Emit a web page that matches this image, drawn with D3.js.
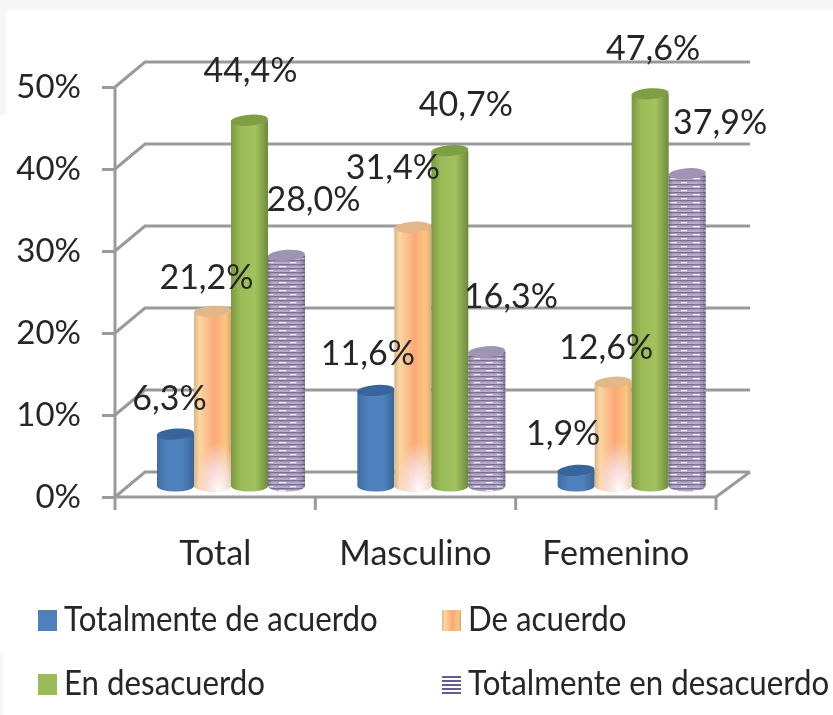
<!DOCTYPE html>
<meta charset="utf-8">
<script src="https://d3js.org/d3.v7.min.js"></script>

<style>
    html, body { margin: 0; padding: 0; background: #fff; }
    svg { display: block; }
    text { font-family: Lato, sans-serif; fill: #262626; }
    .grid { fill: none; stroke: #9a9a9a; stroke-width: 3px; }
    .axis path { display: none; }
    .axis line { stroke: #9a9a9a; stroke-width: 3px; }
</style>

<div id="chart"></div>

<script>
    // values
    const categories = ["Total", "Masculino", "Femenino"];
    const seriesNames = ["Totalmente de acuerdo", "De acuerdo", "En desacuerdo", "Totalmente en desacuerdo"];
    const totalmenteAcuerdo = [6.3, 11.6, 1.9];
    const deAcuerdo = [21.2, 31.4, 12.6];
    const enDesacuerdo = [44.4, 40.7, 47.6];
    const totalmenteDesacuerdo = [28.0, 16.3, 37.9];
    const yTicks = [0, 10, 20, 30, 40, 50];

    const seriesValues = [totalmenteAcuerdo, deAcuerdo, enDesacuerdo, totalmenteDesacuerdo];

    // label offsets from the top of each bar, [dx, dy], per series then category
    const labelNudge = [
        [[-6, -38], [-8, -40], [-13, -40]],
        [[-6, -37], [-20, -63], [-7, -37]],
        [[1, -52], [16, -49], [3, -48]],
        [[27, -59], [24, -58], [33, -54]]
    ];

    const width = 833, height = 715;
    const depthX = 30, depthY = 25;   // shift of the back wall

    const svg = d3.select("#chart").append("svg")
        .attr("width", width)
        .attr("height", height);

    const defs = svg.append("defs");

    function hGradient(id, stops) {
        let g = defs.append("linearGradient").attr("id", id);
        stops.forEach(function (s) {
            g.append("stop").attr("offset", s[0]).attr("stop-color", s[1]).attr("stop-opacity", s[2] === undefined ? 1 : s[2]);
        });
    }

    hGradient("blue", [[0, "#3f6da3"], [0.3, "#4f81bd"], [0.7, "#4f81bd"], [1, "#3a6598"]]);
    hGradient("orange", [[0, "#dcb48c"], [0.15, "#fbd7a0"], [0.55, "#fba878"], [0.85, "#fcc67c"], [1, "#d9a878"]]);
    hGradient("green", [[0, "#7a9840"], [0.25, "#9bbb59"], [0.65, "#a2c25e"], [1, "#6f8a3c"]]);
    hGradient("purpleShade", [[0, "#3b2f5a", 0.35], [0.2, "#ffffff", 0.04], [0.7, "#ffffff", 0.04], [1, "#3b2f5a", 0.4]]);

    // whitish glow at the foot of the orange bars
    let glow = defs.append("radialGradient").attr("id", "orangeGlow")
        .attr("cx", 0.65).attr("cy", 1).attr("r", 0.62);
    glow.append("stop").attr("offset", 0).attr("stop-color", "#fff").attr("stop-opacity", 1);
    glow.append("stop").attr("offset", 0.5).attr("stop-color", "#f8e6f0").attr("stop-opacity", 0.75);
    glow.append("stop").attr("offset", 1).attr("stop-color", "#f8e6f0").attr("stop-opacity", 0);

    // stripes with small light dashes, like the scanned texture
    let stripes = defs.append("pattern").attr("id", "stripes")
        .attr("width", 23).attr("height", 8).attr("patternUnits", "userSpaceOnUse");
    stripes.append("rect").attr("width", 23).attr("height", 8).attr("fill", "#b3aac6");
    stripes.append("rect").attr("width", 23).attr("height", 1.4).attr("fill", "#75678f");
    stripes.append("rect").attr("y", 4).attr("width", 23).attr("height", 1.4).attr("fill", "#75678f");
    stripes.append("rect").attr("x", 3).attr("y", 2).attr("width", 7).attr("height", 1.2).attr("fill", "#f4f2f8");
    stripes.append("rect").attr("x", 14).attr("y", 6).attr("width", 6).attr("height", 1.2).attr("fill", "#f4f2f8");

    let legendStripes = defs.append("pattern").attr("id", "legendStripes")
        .attr("width", 6).attr("height", 4).attr("patternUnits", "userSpaceOnUse");
    legendStripes.append("rect").attr("width", 6).attr("height", 4).attr("fill", "#fff");
    legendStripes.append("rect").attr("width", 6).attr("height", 2).attr("fill", "#6a5a92");

    defs.append("filter").attr("id", "soft")
        .attr("filterUnits", "userSpaceOnUse")
        .attr("x", 0).attr("y", 0).attr("width", width).attr("height", height)
        .append("feGaussianBlur").attr("stdDeviation", 0.7);

    const bodyFill = ["url(#blue)", "url(#orange)", "url(#green)", "url(#stripes)"];
    const capFill = ["#37659c", "#e2b88a", "#7f9f45", "#9f94b4"];
    const legendFill = ["#4f81bd", "url(#orange)", "#9bbb59", "url(#legendStripes)"];

    // faint edges left in the scanned image
    svg.append("rect").attr("width", width).attr("height", 10).attr("fill", "#f7f7f7");
    svg.append("rect").attr("y", 10).attr("width", 6).attr("height", 105).attr("fill", "#f7f7f7");
    svg.append("rect").attr("y", 653).attr("width", 3).attr("height", 62).attr("fill", "#f7f7f7");

    const chart = svg.append("g").attr("filter", "url(#soft)");

    // scales
    const x0 = d3.scaleBand().domain(categories).range([115, 716]);
    const x1 = d3.scaleBand().domain(d3.range(seriesNames.length)).range([42, 190]);
    const y = d3.scaleLinear().domain([0, 50]).range([497, 87]);
    // bars stand a little in from the front edge of the floor
    const barY = d3.scaleLinear().domain([0, 50]).range([486, 74]);

    // walls
    chart.selectAll("gridLines")
        .data(yTicks)
        .enter()
        .append("path")
        .attr("class", "grid")
        .attr("d", function (d) {
            return d3.line()([
                [x0.range()[0], y(d)],
                [x0.range()[0] + depthX, y(d) - depthY],
                [x0.range()[1] + depthX + 4, y(d) - depthY]
            ]);
        });

    chart.append("path").attr("class", "grid")
        .attr("d", d3.line()([
            [x0.range()[0], y(50)],
            [x0.range()[0], y(0)],
            [x0.range()[1], y(0)],
            [x0.range()[1] + depthX + 4, y(0) - depthY]
        ]));

    // axes
    const yAxis = chart.append("g")
        .attr("class", "axis")
        .attr("transform", "translate(" + x0.range()[0] + ",0)")
        .call(d3.axisLeft(y).tickValues(yTicks).tickSize(13).tickPadding(21).tickFormat(function (d) { return d + "%"; }));
    yAxis.selectAll("text").style("font-size", "33px").style("font-family", "Lato, sans-serif").attr("fill", "#262626");

    const xAxis = chart.append("g")
        .attr("class", "axis")
        .attr("transform", "translate(0," + y(0) + ")")
        .call(d3.axisBottom(x0).tickSize(0).tickPadding(44));
    xAxis.selectAll("text").style("font-size", "34px").style("font-family", "Lato, sans-serif").attr("fill", "#262626");

    // tick marks sit between the categories, not under them
    chart.selectAll("xTicks")
        .data(d3.range(categories.length + 1))
        .enter()
        .append("line")
        .attr("class", "grid")
        .attr("x1", function (i) { return x0.range()[0] + i * x0.step(); })
        .attr("x2", function (i) { return x0.range()[0] + i * x0.step(); })
        .attr("y1", y(0))
        .attr("y2", y(0) + 13);

    // cylinders
    const ry = 5.5;
    const glowHeight = 75;
    function bodyPath(bx, w, top, base) {
        return "M" + bx + "," + top + "L" + bx + "," + base +
            "A" + w / 2 + "," + ry + " 0 0 0 " + (bx + w) + "," + base +
            "L" + (bx + w) + "," + top + "Z";
    }

    seriesValues.forEach(function (values, s) {
        values.forEach(function (v, c) {
            let bx = x0(categories[c]) + x1(s);
            let w = x1.bandwidth();
            let top = barY(v), base = barY(0);
            let g = chart.append("g");
            g.append("path").attr("d", bodyPath(bx, w, top, base)).attr("fill", bodyFill[s]);
            if (s === 1) {
                g.append("path").attr("d", bodyPath(bx, w, Math.max(top, base - glowHeight), base)).attr("fill", "url(#orangeGlow)");
            }
            if (s === 3) {
                g.append("path").attr("d", bodyPath(bx, w, top, base)).attr("fill", "url(#purpleShade)");
            }
            g.append("ellipse")
                .attr("cx", bx + w / 2).attr("cy", top)
                .attr("rx", w / 2).attr("ry", ry)
                .attr("transform", "rotate(-4," + (bx + w / 2) + "," + top + ")")
                .attr("fill", capFill[s]);
        });
    });

    // data labels, above the bars
    seriesValues.forEach(function (values, s) {
        values.forEach(function (v, c) {
            chart.append("text")
                .attr("x", x0(categories[c]) + x1(s) + x1.bandwidth() / 2 + labelNudge[s][c][0])
                .attr("y", barY(v) + labelNudge[s][c][1])
                .attr("dy", "0.42em")
                .attr("text-anchor", "middle")
                .style("font-size", "34px")
                .text(v.toFixed(1).replace(".", ",") + "%");
        });
    });

    // legend, two columns
    const legendX = d3.scaleOrdinal().domain([0, 1]).range([38, 442]);
    const legendY = d3.scaleOrdinal().domain([0, 1]).range([620, 684]);
    seriesNames.forEach(function (name, i) {
        let col = i % 2, row = Math.floor(i / 2);
        let g = chart.append("g")
            .attr("transform", "translate(" + legendX(col) + "," + legendY(row) + ")");
        g.append("rect").attr("y", -10).attr("width", 19).attr("height", 21).attr("fill", legendFill[i]);
        g.append("text")
            .attr("transform", "translate(26,-1) scale(0.92,1)")
            .attr("dy", "0.34em")
            .style("font-size", "34px")
            .text(name);
    });
</script>
